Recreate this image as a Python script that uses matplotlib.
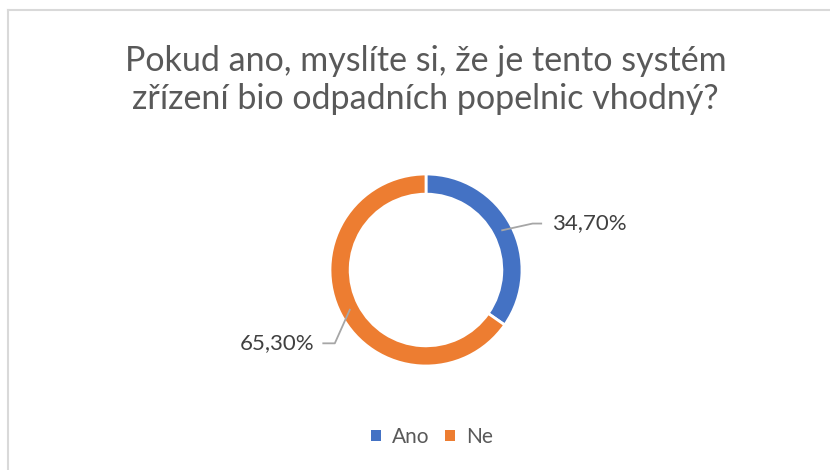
import numpy as np
import matplotlib
matplotlib.use("Agg")
import matplotlib.pyplot as plt
from matplotlib.lines import Line2D
from matplotlib.patches import Patch

# data
categories = ["Ano", "Ne"]
shares = [34.70, 65.30]
labels = ["34,70%", "65,30%"]
colors = ["#4472C4", "#ED7D31"]
title = "Pokud ano, myslíte si, že je tento systém\nzřízení bio odpadních popelnic vhodný?"

W, H = 830, 470
plt.rcParams["font.family"] = ["Lato", "DejaVu Sans"]

fig = plt.figure(figsize=(W / 100, H / 100), dpi=100)

# donut axes: centre at (426, 270) px, radius 96 px, limits +-2
cx, cy, R = 426, 270, 96
ax = fig.add_axes([(cx - 2 * R) / W, (H - cy - 2 * R) / H, 4 * R / W, 4 * R / H])

wedges, _ = ax.pie(shares, colors=colors, startangle=90, counterclock=False,
                   radius=1.0, wedgeprops=dict(width=0.21, edgecolor="white", linewidth=2))
ax.set_xlim(-2, 2)
ax.set_ylim(-2, 2)
ax.set_aspect("auto")
ax.axis("off")

# leader lines + labels
text_kw = dict(fontsize=16, color="#404040", va="center")
for w, lab in zip(wedges, labels):
    ang = np.deg2rad((w.theta1 + w.theta2) / 2)
    x0, y0 = 0.895 * np.cos(ang), 0.895 * np.sin(ang)
    if np.cos(ang) > 0:
        xe, ye = 1.11, y0 + 0.07
        xs = [x0, xe, xe + 0.09]
        ax.plot(xs, [y0, ye, ye], color="#A6A6A6", lw=1.3)
        ax.text(xe + 0.2, ye, lab, ha="left", **text_kw)
    else:
        xe, ye = -0.95, y0 - 0.35
        xs = [x0, xe, xe - 0.12]
        ax.plot(xs, [y0, ye, ye], color="#A6A6A6", lw=1.3)
        ax.text(xe - 0.21, ye, lab, ha="right", **text_kw)

fig.text(0.513, 1 - 80 / H, title, ha="center", va="center", fontsize=24.5,
         color="#595959", linespacing=1.2)

handles = [Patch(facecolor=c, edgecolor="none") for c in colors]
fig.legend(handles, categories, loc="center", bbox_to_anchor=(432 / W, 1 - 437 / H),
           ncol=2, frameon=False, fontsize=15, handlelength=0.45, handleheight=0.45,
           handletextpad=0.55, columnspacing=0.75, labelcolor="#595959")

# chart border (top and left only visible)
fig.add_artist(Line2D([8 / W, 1], [1 - 9.5 / H] * 2, transform=fig.transFigure,
                      color="#D9D9D9", lw=1.5))
fig.add_artist(Line2D([8 / W] * 2, [0, 1 - 9.5 / H], transform=fig.transFigure,
                      color="#D9D9D9", lw=1.5))

fig.savefig("out.png", dpi=100)
